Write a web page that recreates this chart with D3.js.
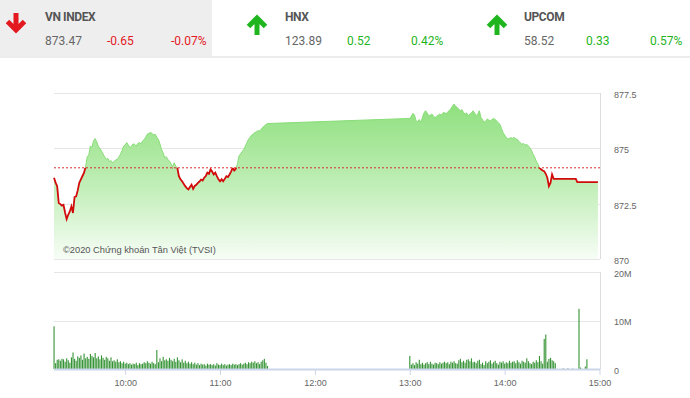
<!DOCTYPE html>
<html>
<head>
<meta charset="utf-8">
<script src="https://cdn.jsdelivr.net/npm/d3@7"></script>
<style>
    html, body { margin: 0; padding: 0; background: #fff; }
    svg { display: block; }
</style>
</head>
<body>
<svg id="chart"></svg>
<script>
// index boxes on top
const indexNames = ["VN INDEX", "HNX", "UPCOM"];
const indexValues = ["873.47", "123.89", "58.52"];
const indexChanges = ["-0.65", "0.52", "0.33"];
const indexPercents = ["-0.07%", "0.42%", "0.57%"];
const indexDirections = ["down", "up", "up"];

// VN-Index intraday
const referencePrice = 874.12;
const priceTicks = [870, 872.5, 875, 877.5];
const volumeTicks = [0, 10, 20];
const timeTicks = ["10:00", "11:00", "12:00", "13:00", "14:00", "15:00"];

const priceTimes = [
    "9:15", "9:16", "9:17", "9:18", "9:19", "9:20", "9:21", "9:22", "9:23", "9:24",
    "9:25", "9:26", "9:27", "9:28", "9:29", "9:30", "9:31", "9:32", "9:33", "9:34",
    "9:35", "9:36", "9:37", "9:38", "9:39", "9:40", "9:41", "9:42", "9:43", "9:44",
    "9:45", "9:46", "9:47", "9:48", "9:49", "9:50", "9:51", "9:52", "9:53", "9:54",
    "9:55", "9:56", "9:57", "9:58", "9:59", "10:00", "10:01", "10:02", "10:03", "10:04",
    "10:05", "10:06", "10:07", "10:08", "10:09", "10:10", "10:11", "10:12", "10:13", "10:14",
    "10:15", "10:16", "10:17", "10:18", "10:19", "10:20", "10:21", "10:22", "10:23", "10:24",
    "10:25", "10:26", "10:27", "10:28", "10:29", "10:30", "10:31", "10:32", "10:33", "10:34",
    "10:35", "10:36", "10:37", "10:38", "10:39", "10:40", "10:41", "10:42", "10:43", "10:44",
    "10:45", "10:46", "10:47", "10:48", "10:49", "10:50", "10:51", "10:52", "10:53", "10:54",
    "10:55", "10:56", "10:57", "10:58", "10:59", "11:00", "11:01", "11:02", "11:03", "11:04",
    "11:05", "11:06", "11:07", "11:08", "11:09", "11:10", "11:11", "11:12", "11:13", "11:14",
    "11:15", "11:16", "11:17", "11:18", "11:19", "11:20", "11:21", "11:22", "11:23", "11:24",
    "11:25", "11:26", "11:27", "11:28", "11:29", "11:30",
    "13:00", "13:01", "13:02", "13:03", "13:04", "13:05", "13:06", "13:07", "13:08", "13:09",
    "13:10", "13:11", "13:12", "13:13", "13:14", "13:15", "13:16", "13:17", "13:18", "13:19",
    "13:20", "13:21", "13:22", "13:23", "13:24", "13:25", "13:26", "13:27", "13:28", "13:29",
    "13:30", "13:31", "13:32", "13:33", "13:34", "13:35", "13:36", "13:37", "13:38", "13:39",
    "13:40", "13:41", "13:42", "13:43", "13:44", "13:45", "13:46", "13:47", "13:48", "13:49",
    "13:50", "13:51", "13:52", "13:53", "13:54", "13:55", "13:56", "13:57", "13:58", "13:59",
    "14:00", "14:01", "14:02", "14:03", "14:04", "14:05", "14:06", "14:07", "14:08", "14:09",
    "14:10", "14:11", "14:12", "14:13", "14:14", "14:15", "14:16", "14:17", "14:18", "14:19",
    "14:20", "14:21", "14:22", "14:23", "14:24", "14:25", "14:26", "14:27", "14:28", "14:29",
    "14:30", "14:31", "14:45", "14:46", "14:59"
];
const priceValues = [
    873.67, 873.45, 873.29, 872.53, 872.48, 872.41, 872.45, 872.10, 871.80, 872.00,
    872.15, 872.38, 872.08, 872.80, 872.83, 873.10, 873.44, 873.60, 873.75, 873.90,
    874.17, 874.62, 874.70, 875.10, 875.05, 875.33, 875.44, 875.30, 875.10, 875.00,
    874.88, 874.75, 874.62, 874.50, 874.55, 874.40, 874.45, 874.35, 874.40, 874.48,
    874.50, 874.60, 874.73, 874.90, 875.10, 875.15, 875.26, 875.15, 875.03, 875.10,
    875.20, 875.18, 875.10, 875.22, 875.26, 875.20, 875.33, 875.40, 875.50, 875.64,
    875.68, 875.71, 875.68, 875.60, 875.64, 875.50, 875.41, 875.20, 874.95, 874.80,
    874.58, 874.62, 874.50, 874.42, 874.30, 874.17, 874.35, 874.20, 874.12, 873.74,
    873.60, 873.51, 873.40, 873.29, 873.20, 873.14, 873.25, 873.36, 873.17, 873.30,
    873.35, 873.44, 873.50, 873.59, 873.55, 873.67, 873.75, 873.90, 873.85, 874.05,
    873.95, 873.82, 873.90, 873.74, 873.60, 873.51, 873.60, 873.51, 873.62, 873.74,
    873.70, 873.82, 873.95, 874.12, 874.00, 874.08, 874.30, 874.65, 874.75, 874.85,
    874.95, 875.10, 875.25, 875.41, 875.50, 875.60, 875.65, 875.71, 875.75, 875.80,
    875.78, 875.86, 875.95, 876.01, 876.08, 876.12,
    876.35, 876.45, 876.58, 876.50, 876.24, 876.20, 876.30, 876.17, 876.40, 876.60,
    876.70, 876.60, 876.47, 876.50, 876.55, 876.45, 876.39, 876.45, 876.50, 876.55,
    876.50, 876.60, 876.62, 876.55, 876.65, 876.70, 876.80, 876.90, 877.00, 876.90,
    876.85, 876.77, 876.70, 876.75, 876.62, 876.55, 876.60, 876.47, 876.55, 876.60,
    876.70, 876.60, 876.47, 876.55, 876.70, 876.40, 876.30, 876.17, 876.25, 876.32,
    876.28, 876.24, 876.30, 876.35, 876.30, 876.24, 876.15, 876.09, 875.90, 875.71,
    875.60, 875.50, 875.41, 875.45, 875.48, 875.45, 875.50, 875.42, 875.41, 875.30,
    875.25, 875.18, 875.22, 875.15, 875.18, 875.10, 875.03, 874.90, 874.73, 874.60,
    874.42, 874.30, 874.12, 874.05, 874.00, 873.97, 873.85, 873.67, 873.29, 873.44,
    873.82, 873.62, 873.62, 873.47, 873.47
];

// volume in millions, one bar per minute
const morningStart = "9:15";
const morningVolumes = [
    8.8,
    1.2, 1.9, 2.0, 1.7, 2.1, 2.0, 1.5, 2.2, 1.8, 1.3,
    2.4, 3.4, 2.1, 1.7, 2.6, 2.3, 2.8, 1.9, 3.2, 2.2,
    2.5, 2.1, 3.1, 2.7, 2.4, 3.3, 2.2, 2.6, 2.0, 2.8,
    2.3, 1.9, 2.5, 2.2, 1.7, 2.4, 1.6, 1.8, 1.5, 2.0,
    1.4, 1.6, 1.2, 1.5, 1.1, 1.3, 1.0, 1.2, 0.9, 1.1,
    1.0, 1.3, 0.8, 1.2, 1.0, 1.1, 1.4, 1.2, 1.6, 1.3,
    1.1, 1.5, 1.2, 1.0, 3.9, 1.4, 2.2, 1.6, 2.5, 1.8,
    2.0, 1.7, 2.3, 1.9, 1.6, 2.1, 1.5, 2.4, 1.8, 1.4,
    2.0, 1.3, 1.7, 1.2, 1.5, 1.1, 1.4, 1.0, 1.3, 0.9,
    1.2, 0.8, 1.1, 0.9, 1.0, 0.7, 1.1, 0.9, 1.0, 0.8,
    1.0, 0.7, 1.2, 0.9, 0.8, 1.1, 0.8, 1.0, 0.7, 0.9,
    1.0, 0.8, 1.1, 0.9, 1.0, 0.8, 1.0, 1.2, 0.9, 1.1,
    1.3, 1.0, 1.4, 1.2, 1.5, 1.3, 1.6, 1.2, 1.4, 1.0,
    1.5, 1.8, 2.1, 1.3, 0.6
];
const afternoonStart = "13:00";
const afternoonVolumes = [
    2.7,
    0.9, 1.2, 0.8, 1.4, 1.1, 1.9, 1.0, 1.3, 0.9, 1.2,
    1.4, 1.0, 1.5, 1.1, 0.9, 1.3, 1.2, 1.0, 1.4, 1.1,
    1.3, 1.5, 1.2, 1.4, 1.0, 1.5, 1.3, 1.6, 1.2, 1.1,
    1.8, 2.1, 1.4, 1.7, 1.3, 1.9, 2.0, 1.6, 2.2, 1.4,
    1.5, 1.2, 1.7, 1.9, 1.0, 1.3, 0.8, 1.6, 1.2, 1.5,
    1.8, 1.1, 1.4, 1.7, 1.2, 0.9, 1.5, 1.3, 1.6, 1.1,
    1.4, 1.2, 1.7, 1.3, 1.5, 1.6, 1.2, 1.8, 1.4, 1.1,
    1.7, 1.5, 1.3, 2.2, 1.6, 1.2, 1.0, 1.5, 1.3, 1.8,
    1.4, 2.7, 1.6, 1.1, 6.2, 7.1, 1.5, 2.1, 2.3, 1.8,
    1.6, 1.2
];
const closingTimes = ["14:37", "14:40", "14:43", "14:47", "14:48", "14:51", "14:52"];
const closingVolumes = [0.15, 0.15, 0.1, 12.4, 0.3, 0.5, 2.0];

const props = {
    width: 690,
    height: 398,
    plot: { left: 54, right: 599.5 },
    price: { top: 93, bottom: 259 },
    volume: { top: 272, bottom: 369 },
    colors: {
        down: "#e3191f",
        up: "#1fb51f",
        grid: "#e6e6e6",
        axis: "#ccd6eb",
        label: "#666",
        line: "#d10a0a",
        bar: "#359335"
    }
};

function toMinutes(t) {
    const p = t.split(":");
    return +p[0] * 60 + +p[1];
}

function IntradayChart() {
    let svg, xScale, yPrice, yVolume;

    this.init = function(selector) {
        svg = d3.select(selector)
            .attr("width", props.width)
            .attr("height", props.height);
        initScales();
        drawHeader();
        drawGrid();
        drawPrice();
        drawVolume();
        drawAxes();
    };

    function initScales() {
        xScale = d3.scaleLinear()
            .domain([toMinutes("9:15"), toMinutes("15:00")])
            .range([props.plot.left, props.plot.right]);
        yPrice = d3.scaleLinear()
            .domain([870, 877.5])
            .range([props.price.bottom, props.price.top]);
        yVolume = d3.scaleLinear()
            .domain([0, 20])
            .range([props.volume.bottom, props.volume.top]);
    }

    function drawHeader() {
        svg.append("rect")
            .attr("x", 0).attr("y", 0)
            .attr("width", 212).attr("height", 56)
            .attr("fill", "#eeeeee");
        svg.append("rect")
            .attr("x", 0).attr("y", 56)
            .attr("width", props.width).attr("height", 2)
            .attr("fill", "#ececec");

        const arrowX = [16, 257, 497];
        const textX = [45, 285, 524];

        indexNames.forEach(function(name, i) {
            const dir = indexDirections[i];
            const col = dir === "down" ? props.colors.down : props.colors.up;
            const cx = arrowX[i];
            const arrow = dir === "down"
                ? "M" + cx + ",13 L" + cx + ",30 M" + (cx - 8.5) + ",21.5 L" + cx + ",30 L" + (cx + 8.5) + ",21.5"
                : "M" + cx + ",35 L" + cx + ",18 M" + (cx - 8.5) + ",26.5 L" + cx + ",18 L" + (cx + 8.5) + ",26.5";
            svg.append("path")
                .attr("d", arrow)
                .attr("fill", "none")
                .attr("stroke", col)
                .attr("stroke-width", 5)
                .attr("stroke-linejoin", "miter");

            const g = svg.append("g")
                .attr("font-family", "Roboto, sans-serif")
                .attr("font-size", "12px");
            g.append("text")
                .attr("x", textX[i]).attr("y", 21)
                .attr("font-weight", "bold")
                .attr("letter-spacing", "-0.4px")
                .attr("fill", "#555")
                .text(name);
            g.append("text")
                .attr("x", textX[i]).attr("y", 45)
                .attr("fill", "#666")
                .text(indexValues[i]);
            g.append("text")
                .attr("x", textX[i] + 62).attr("y", 45)
                .attr("fill", col)
                .text(indexChanges[i]);
            g.append("text")
                .attr("x", textX[i] + 126).attr("y", 45)
                .attr("fill", col)
                .text(indexPercents[i]);
        });
    }

    function drawGrid() {
        svg.append("g").selectAll("line.pgrid")
            .data(priceTicks)
            .enter().append("line")
            .attr("x1", props.plot.left).attr("x2", 600)
            .attr("y1", function(d) { return Math.round(yPrice(d)) + 0.5; })
            .attr("y2", function(d) { return Math.round(yPrice(d)) + 0.5; })
            .attr("stroke", props.colors.grid);

        svg.append("g").selectAll("line.vgrid")
            .data(volumeTicks.filter(function(d) { return d > 0; }))
            .enter().append("line")
            .attr("x1", props.plot.left).attr("x2", 600)
            .attr("y1", function(d) { return Math.round(yVolume(d)) + 0.5; })
            .attr("y2", function(d) { return Math.round(yVolume(d)) + 0.5; })
            .attr("stroke", props.colors.grid);

        // right borders
        svg.append("line")
            .attr("x1", 600.5).attr("x2", 600.5)
            .attr("y1", props.price.top).attr("y2", props.price.bottom)
            .attr("stroke", "#dcdcdc");
        svg.append("line")
            .attr("x1", 600.5).attr("x2", 600.5)
            .attr("y1", props.volume.top).attr("y2", props.volume.bottom)
            .attr("stroke", "#dcdcdc");
    }

    function drawPrice() {
        const data = priceTimes.map(function(t, i) {
            return { t: toMinutes(t), v: priceValues[i] };
        });
        const refY = yPrice(referencePrice);

        const defs = svg.append("defs");
        const grad = defs.append("linearGradient")
            .attr("id", "areaFill")
            .attr("gradientUnits", "userSpaceOnUse")
            .attr("x1", 0).attr("x2", 0)
            .attr("y1", 104).attr("y2", props.price.bottom);
        grad.append("stop").attr("offset", "0%").attr("stop-color", "#8fe07e");
        grad.append("stop").attr("offset", "55%").attr("stop-color", "#c3efba");
        grad.append("stop").attr("offset", "100%").attr("stop-color", "#f7fdf6");

        defs.append("clipPath").attr("id", "clipAbove")
            .append("rect")
            .attr("x", 0).attr("y", 0)
            .attr("width", props.width).attr("height", refY);
        defs.append("clipPath").attr("id", "clipBelow")
            .append("rect")
            .attr("x", 0).attr("y", refY)
            .attr("width", props.width).attr("height", props.height - refY);

        const area = d3.area()
            .x(function(d) { return xScale(d.t); })
            .y0(props.price.bottom)
            .y1(function(d) { return yPrice(d.v); });
        const line = d3.line()
            .x(function(d) { return xScale(d.t); })
            .y(function(d) { return yPrice(d.v); });

        svg.append("path")
            .datum(data)
            .attr("d", area)
            .attr("fill", "url(#areaFill)");

        svg.append("path")
            .datum(data)
            .attr("d", line)
            .attr("fill", "none")
            .attr("stroke", "#88dc78")
            .attr("stroke-width", 1)
            .attr("clip-path", "url(#clipAbove)");

        svg.append("path")
            .datum(data)
            .attr("d", line)
            .attr("fill", "none")
            .attr("stroke", props.colors.line)
            .attr("stroke-width", 1.8)
            .attr("clip-path", "url(#clipBelow)");

        // reference price
        svg.append("line")
            .attr("x1", props.plot.left).attr("x2", 600)
            .attr("y1", refY).attr("y2", refY)
            .attr("stroke", "#d83030")
            .attr("stroke-width", 1)
            .attr("stroke-dasharray", "2,2");

        svg.append("text")
            .attr("x", 63).attr("y", 253)
            .attr("font-family", "'Liberation Sans', Arial, sans-serif")
            .attr("font-size", "9.3px")
            .attr("fill", "#555")
            .text("©2020 Chứng khoán Tân Việt (TVSI)");
    }

    function drawVolume() {
        const bars = [];
        const m0 = toMinutes(morningStart);
        morningVolumes.forEach(function(v, i) { bars.push({ t: m0 + i, v: v }); });
        const a0 = toMinutes(afternoonStart);
        afternoonVolumes.forEach(function(v, i) { bars.push({ t: a0 + i, v: v }); });
        closingTimes.forEach(function(t, i) { bars.push({ t: toMinutes(t), v: closingVolumes[i] }); });

        svg.append("g").selectAll(".bar")
            .data(bars)
            .enter().append("rect")
            .attr("class", "bar")
            .attr("fill", props.colors.bar)
            .attr("x", function(d) { return xScale(d.t) - 0.5; })
            .attr("y", function(d) { return yVolume(d.v); })
            .attr("width", 1.1)
            .attr("height", function(d) { return props.volume.bottom - yVolume(d.v); });
    }

    function drawAxes() {
        const ticks = timeTicks.map(toMinutes);
        const xAxis = d3.axisBottom(xScale)
            .tickValues(ticks)
            .tickSize(6)
            .tickPadding(5)
            .tickFormat(function(d, i) { return timeTicks[i]; });

        const gx = svg.append("g")
            .attr("transform", "translate(0," + props.volume.bottom + ")")
            .call(xAxis);
        gx.select(".domain")
            .attr("d", "M" + props.plot.left + ",0.5H600")
            .attr("stroke", props.colors.axis)
            .attr("stroke-width", 2);
        gx.selectAll(".tick line").attr("stroke", props.colors.axis);
        gx.selectAll(".tick text")
            .attr("fill", props.colors.label)
            .attr("font-family", "'Liberation Sans', Arial, sans-serif")
            .attr("font-size", "9px");

        const yAxisPrice = d3.axisRight(yPrice)
            .tickValues(priceTicks)
            .tickSize(0)
            .tickPadding(0)
            .tickFormat(function(d) { return d3.format("")(d); });
        const gp = svg.append("g")
            .attr("transform", "translate(614,1.5)")
            .call(yAxisPrice);

        const yAxisVol = d3.axisRight(yVolume)
            .tickValues(volumeTicks)
            .tickSize(0)
            .tickPadding(0)
            .tickFormat(function(d) { return d === 0 ? "0" : d + "M"; });
        const gv = svg.append("g")
            .attr("transform", "translate(614,1.5)")
            .call(yAxisVol);

        [gp, gv].forEach(function(g) {
            g.select(".domain").remove();
            g.selectAll(".tick text")
                .attr("fill", props.colors.label)
                .attr("font-family", "'Liberation Sans', Arial, sans-serif")
                .attr("font-size", "9px");
        });
    }
}

new IntradayChart().init("#chart");
</script>
</body>
</html>
